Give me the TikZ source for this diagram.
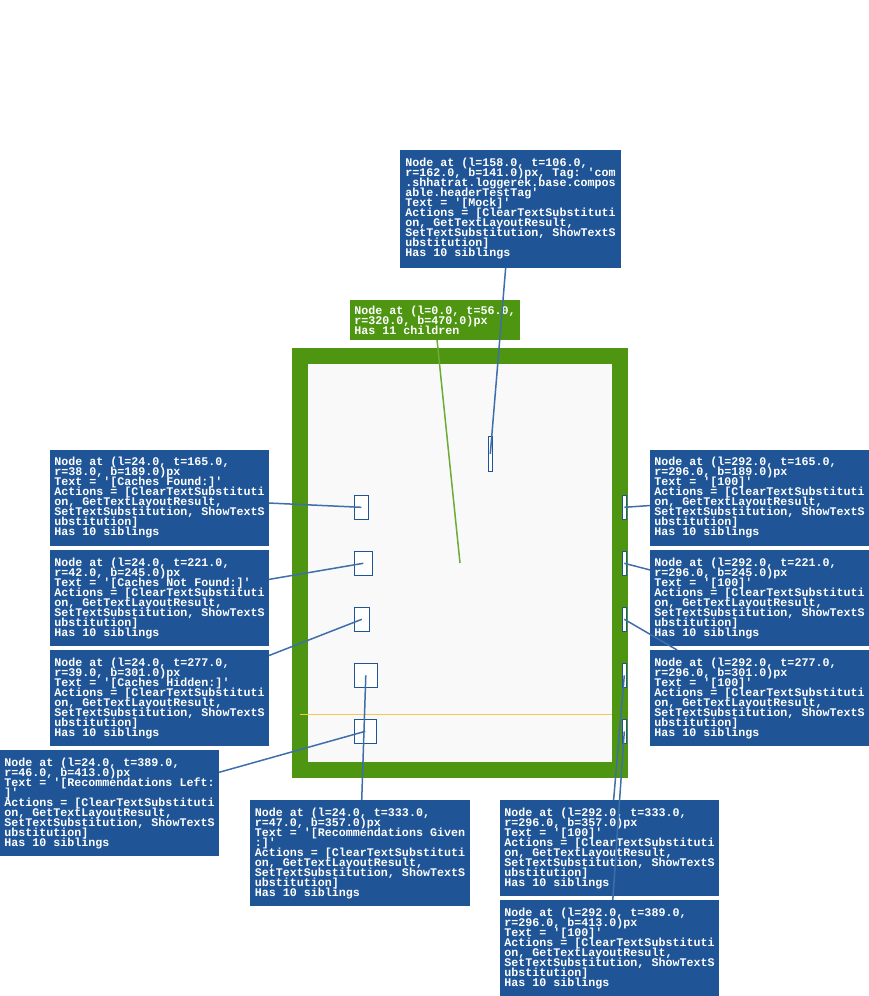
\documentclass[tikz,border=0pt]{standalone}
\usepackage{fontspec}
\setmonofont{Liberation Mono}
\usepackage{xcolor}
\definecolor{lblblue}{HTML}{1F5596}
\definecolor{rootgreen}{HTML}{4E9612}
\definecolor{connblue}{HTML}{3E6EAB}
\definecolor{conngreen}{HTML}{6CAB35}
\definecolor{panel}{HTML}{F9F9F9}
\definecolor{divider}{HTML}{F2C94C}
\usepackage{tikz}
\usetikzlibrary{positioning}
\setlength{\lineskiplimit}{-1000pt}
\tikzset{
    lbl/.style={
        fill=lblblue, text=white,
        inner xsep=4pt, inner ysep=3pt, outer sep=0pt,
        align=left, anchor=north west,
        minimum width=219pt, minimum height=96pt,
        font=\ttfamily\bfseries\fontsize{11.67}{10}\selectfont
    },
    rootlbl/.style={
        lbl,
        fill=rootgreen,
        minimum width=170pt, minimum height=40pt
    },
    root/.style={
        draw=rootgreen, fill=panel,
        line width=16pt, inner sep=0pt,
        minimum width=320pt, minimum height=414pt
    },
    elem/.style 2 args={
        draw=lblblue, fill=white, line width=1pt,
        inner sep=0pt, outer sep=0pt,
        minimum width=#1, minimum height=#2
    },
    conn/.style={
        connblue, line width=1.5pt
    },
    rootconn/.style={
        conngreen, line width=1.5pt
    },
}

\begin{document}
\begin{tikzpicture}
            [x=1pt, y=-1pt]
            \useasboundingbox (0,0) rectangle (869,996);

            % Draw root frame
            \node[root] (root) at (460,563) {};
            \draw[divider, line width=1pt] (300,714.3) -- (612,714.3);

            % Draw child elements
            \node[elem={4pt}{35pt}] (elHeader) at (490.3,453.8) {};
            \node[elem={14pt}{24pt}] (elCachesFound) at (361.3,507.3) {};
            \node[elem={18pt}{24pt}] (elCachesNotFound) at (363.3,563.3) {};
            \node[elem={15pt}{24pt}] (elCachesHidden) at (361.8,619.3) {};
            \node[elem={23pt}{24pt}] (elRecGiven) at (365.8,675.3) {};
            \node[elem={22pt}{24pt}] (elRecLeft) at (365.3,731.3) {};
            \node[elem={4pt}{24pt}] (elCountA) at (624.3,507.3) {};
            \node[elem={4pt}{24pt}] (elCountB) at (624.3,563.3) {};
            \node[elem={4pt}{24pt}] (elCountC) at (624.3,619.3) {};
            \node[elem={4pt}{24pt}] (elCountD) at (624.3,675.3) {};
            \node[elem={4pt}{24pt}] (elCountE) at (624.3,731.3) {};

            % Draw top labels
            \node[lbl, minimum width=221pt, minimum height=118pt] (lblHeader) at (400,150)
                {Node at (l=158.0, t=106.0,\\r=162.0, b=141.0)px, Tag: 'com\\.shhatrat.loggerek.base.compos\\able.headerTestTag'\\Text = '[Mock]'\\Actions = [ClearTextSubstituti\\on, GetTextLayoutResult,\\SetTextSubstitution, ShowTextS\\ubstitution]\\Has 10 siblings};
            \node[rootlbl] (lblRoot) at (350,300)
                {Node at (l=0.0, t=56.0,\\r=320.0, b=470.0)px\\Has 11 children};

            % Draw left labels
            \node[lbl] (lblCachesFound) at (50,450)
                {Node at (l=24.0, t=165.0,\\r=38.0, b=189.0)px\\Text = '[Caches Found:]'\\Actions = [ClearTextSubstituti\\on, GetTextLayoutResult,\\SetTextSubstitution, ShowTextS\\ubstitution]\\Has 10 siblings};
            \node[lbl, below=4pt of lblCachesFound] (lblCachesNotFound)
                {Node at (l=24.0, t=221.0,\\r=42.0, b=245.0)px\\Text = '[Caches Not Found:]'\\Actions = [ClearTextSubstituti\\on, GetTextLayoutResult,\\SetTextSubstitution, ShowTextS\\ubstitution]\\Has 10 siblings};
            \node[lbl, below=4pt of lblCachesNotFound] (lblCachesHidden)
                {Node at (l=24.0, t=277.0,\\r=39.0, b=301.0)px\\Text = '[Caches Hidden:]'\\Actions = [ClearTextSubstituti\\on, GetTextLayoutResult,\\SetTextSubstitution, ShowTextS\\ubstitution]\\Has 10 siblings};
            \node[lbl, minimum height=106pt] (lblRecLeft) at (0,750)
                {Node at (l=24.0, t=389.0,\\r=46.0, b=413.0)px\\Text = '[Recommendations Left:\\]'\\Actions = [ClearTextSubstituti\\on, GetTextLayoutResult,\\SetTextSubstitution, ShowTextS\\ubstitution]\\Has 10 siblings};
            \node[lbl, minimum width=220pt, minimum height=106pt] (lblRecGiven) at (250,800)
                {Node at (l=24.0, t=333.0,\\r=47.0, b=357.0)px\\Text = '[Recommendations Given\\:]'\\Actions = [ClearTextSubstituti\\on, GetTextLayoutResult,\\SetTextSubstitution, ShowTextS\\ubstitution]\\Has 10 siblings};

            % Draw right labels
            \node[lbl] (lblCountA) at (650,450)
                {Node at (l=292.0, t=165.0,\\r=296.0, b=189.0)px\\Text = '[100]'\\Actions = [ClearTextSubstituti\\on, GetTextLayoutResult,\\SetTextSubstitution, ShowTextS\\ubstitution]\\Has 10 siblings};
            \node[lbl, below=4pt of lblCountA] (lblCountB)
                {Node at (l=292.0, t=221.0,\\r=296.0, b=245.0)px\\Text = '[100]'\\Actions = [ClearTextSubstituti\\on, GetTextLayoutResult,\\SetTextSubstitution, ShowTextS\\ubstitution]\\Has 10 siblings};
            \node[lbl, below=4pt of lblCountB] (lblCountC)
                {Node at (l=292.0, t=277.0,\\r=296.0, b=301.0)px\\Text = '[100]'\\Actions = [ClearTextSubstituti\\on, GetTextLayoutResult,\\SetTextSubstitution, ShowTextS\\ubstitution]\\Has 10 siblings};
            \node[lbl] (lblCountD) at (500,800)
                {Node at (l=292.0, t=333.0,\\r=296.0, b=357.0)px\\Text = '[100]'\\Actions = [ClearTextSubstituti\\on, GetTextLayoutResult,\\SetTextSubstitution, ShowTextS\\ubstitution]\\Has 10 siblings};
            \node[lbl, below=4pt of lblCountD] (lblCountE)
                {Node at (l=292.0, t=389.0,\\r=296.0, b=413.0)px\\Text = '[100]'\\Actions = [ClearTextSubstituti\\on, GetTextLayoutResult,\\SetTextSubstitution, ShowTextS\\ubstitution]\\Has 10 siblings};

            % Draw connectors
            \draw[rootconn] (lblRoot) -- (root.center);
            \draw[conn] (lblHeader) -- (elHeader.center);
            \draw[conn] (lblCachesFound) -- (elCachesFound.center);
            \draw[conn] (lblCachesNotFound) -- (elCachesNotFound.center);
            \draw[conn] (lblCachesHidden) -- (elCachesHidden.center);
            \draw[conn] (lblRecGiven) -- (elRecGiven.center);
            \draw[conn] (lblRecLeft) -- (elRecLeft.center);
            \draw[conn] (lblCountA) -- (elCountA.center);
            \draw[conn] (lblCountB) -- (elCountB.center);
            \draw[conn] (lblCountC) -- (elCountC.center);
            \draw[conn] (lblCountD) -- (elCountD.center);
            \draw[conn] (lblCountE) -- (elCountE.center);

        \end{tikzpicture}
\end{document}
